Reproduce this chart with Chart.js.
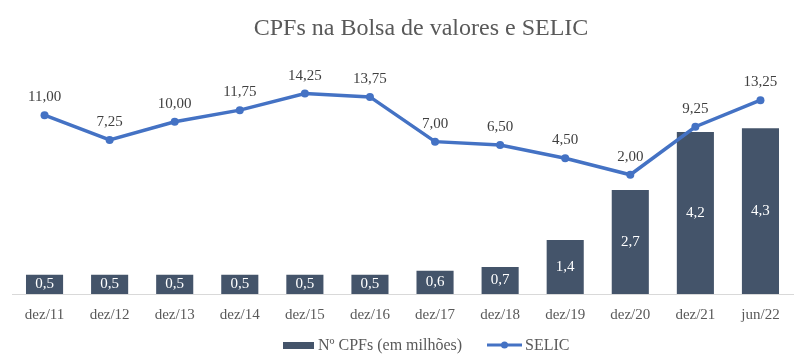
<!DOCTYPE html>
<html>
<head>
<meta charset="utf-8">
<script src="https://cdn.jsdelivr.net/npm/chart.js@4"></script>
<style>
  html, body { margin: 0; padding: 0; background: #ffffff; }
  #wrap { width: 811px; height: 361px; position: relative; }
</style>
</head>
<body>
<div id="wrap"><canvas id="c"></canvas></div>
<script>
const categories = ['dez/11','dez/12','dez/13','dez/14','dez/15','dez/16','dez/17','dez/18','dez/19','dez/20','dez/21','jun/22'];
const cpfs = [0.5, 0.5, 0.5, 0.5, 0.5, 0.5, 0.6, 0.7, 1.4, 2.7, 4.2, 4.3];
const selic = [11.00, 7.25, 10.00, 11.75, 14.25, 13.75, 7.00, 6.50, 4.50, 2.00, 9.25, 13.25];
const seriesNames = ['Nº CPFs (em milhões)', 'SELIC'];
const titleText = 'CPFs na Bolsa de valores e SELIC';

const FONT = "'Liberation Serif', 'DejaVu Serif', serif";
const BAR_COLOR = '#44546A';
const LINE_COLOR = '#4472C4';

const labelsPlugin = {
  id: 'valueLabels',
  afterDatasetsDraw(chart) {
    const ctx = chart.ctx;
    ctx.save();
    ctx.textAlign = 'center';
    ctx.textBaseline = 'middle';
    const barMeta = chart.getDatasetMeta(1);
    ctx.font = '15px ' + FONT;
    ctx.fillStyle = '#ffffff';
    barMeta.data.forEach((el, i) => {
      const v = cpfs[i];
      const y = (el.y + el.base) / 2;
      ctx.fillText(v.toFixed(1).replace('.', ','), el.x, y);
    });
    const lineMeta = chart.getDatasetMeta(0);
    ctx.fillStyle = '#404040';
    lineMeta.data.forEach((el, i) => {
      const v = selic[i];
      ctx.fillText(v.toFixed(2).replace('.', ','), el.x, el.y - 18);
    });
    ctx.restore();
  },
  afterDraw(chart) {
    const ctx = chart.ctx;
    ctx.save();
    // title
    ctx.font = '24px ' + FONT;
    ctx.fillStyle = '#595959';
    ctx.textAlign = 'center';
    ctx.textBaseline = 'middle';
    ctx.fillText(titleText, 421, 29);
    // legend
    const y = 345;
    ctx.fillStyle = BAR_COLOR;
    ctx.fillRect(283, y - 3, 31, 7);
    ctx.font = '16px ' + FONT;
    ctx.fillStyle = '#595959';
    ctx.textAlign = 'left';
    ctx.fillText(seriesNames[0], 318, y + 1);
    ctx.strokeStyle = LINE_COLOR;
    ctx.lineWidth = 3;
    ctx.beginPath();
    ctx.moveTo(487, y);
    ctx.lineTo(522, y);
    ctx.stroke();
    ctx.fillStyle = LINE_COLOR;
    ctx.beginPath();
    ctx.arc(504.5, y, 3.5, 0, Math.PI * 2);
    ctx.fill();
    ctx.fillStyle = '#595959';
    ctx.fillText(seriesNames[1], 525, y + 1);
    ctx.restore();
  }
};

new Chart(document.getElementById('c'), {
  data: {
    labels: categories,
    datasets: [
      {
        type: 'line',
        label: seriesNames[1],
        data: selic,
        yAxisID: 'y2',
        borderColor: LINE_COLOR,
        backgroundColor: LINE_COLOR,
        borderWidth: 3.5,
        pointRadius: 4,
        pointBackgroundColor: LINE_COLOR,
        pointBorderWidth: 0,
        tension: 0,
        order: 0
      },
      {
        type: 'bar',
        label: seriesNames[0],
        data: cpfs,
        yAxisID: 'y',
        backgroundColor: BAR_COLOR,
        barPercentage: 0.57,
        categoryPercentage: 1.0,
        order: 1
      }
    ]
  },
  options: {
    responsive: true,
    maintainAspectRatio: false,
    animation: false,
    layout: { padding: { left: 12, right: 18, top: 82, bottom: 25 } },
    plugins: {
      legend: { display: false },
      tooltip: { enabled: false },
      title: { display: false }
    },
    scales: {
      x: {
        offset: true,
        grid: { display: false, drawTicks: false },
        border: { color: '#d9d9d9', width: 1 },
        ticks: { color: '#595959', font: { family: FONT, size: 15 }, padding: 12, maxRotation: 0 }
      },
      y: {
        display: false,
        min: 0,
        max: 5.5
      },
      y2: {
        display: false,
        position: 'right',
        min: -16,
        max: 16
      }
    }
  },
  plugins: [labelsPlugin]
});
</script>
</body>
</html>
